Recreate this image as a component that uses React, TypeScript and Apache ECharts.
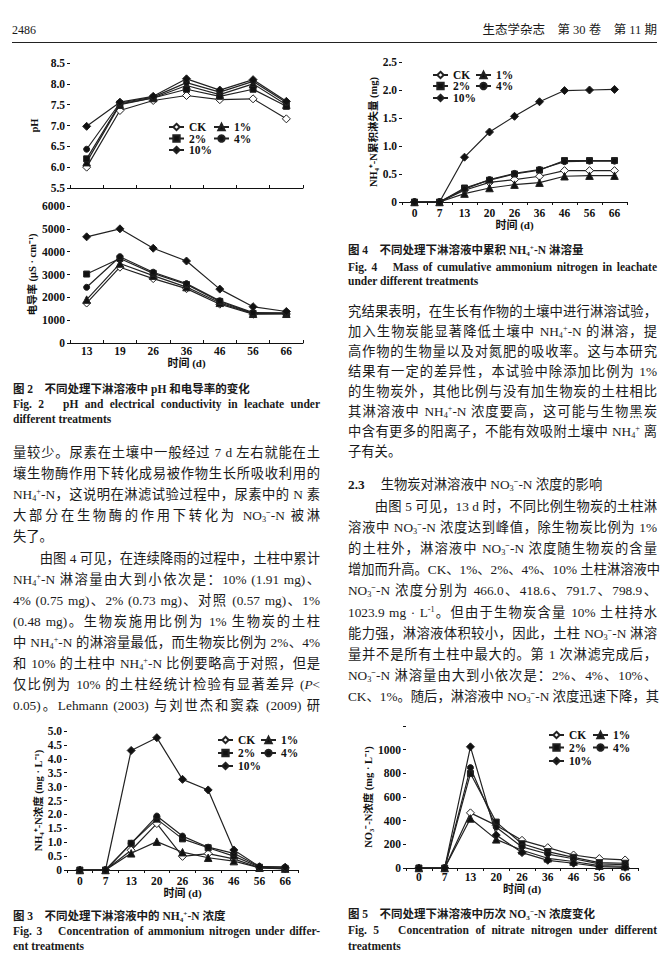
import React, { useEffect, useRef } from "react";
import * as echarts from "echarts";

// ---------- data ----------
const daysFig2 = ["13", "19", "26", "36", "46", "56", "66"];
const daysLeach = ["0", "7", "13", "20", "26", "36", "46", "56", "66"];
const treatments = ["CK", "1%", "2%", "4%", "10%"];

const phCK = [6.0, 7.36, 7.6, 7.72, 7.62, 7.64, 7.16];
const ph1 = [6.12, 7.5, 7.66, 7.96, 7.74, 8.0, 7.5];
const ph2 = [6.2, 7.52, 7.66, 7.87, 7.7, 7.87, 7.46];
const ph4 = [6.43, 7.54, 7.68, 8.03, 7.8, 8.06, 7.55];
const ph10 = [6.98, 7.56, 7.7, 8.12, 7.85, 8.1, 7.58];

const ecCK = [1750, 3320, 2820, 2380, 1700, 1260, 1270];
const ec1 = [1900, 3480, 2950, 2450, 1760, 1280, 1280];
const ec2 = [3020, 3700, 3050, 2560, 1820, 1300, 1300];
const ec4 = [2440, 3780, 3100, 2600, 1850, 1330, 1320];
const ec10 = [4650, 5000, 4150, 3590, 2360, 1590, 1380];

const cumCK = [0, 0, 0.21, 0.35, 0.4, 0.46, 0.56, 0.56, 0.56];
const cum1 = [0, 0, 0.15, 0.25, 0.31, 0.345, 0.46, 0.47, 0.47];
const cum2 = [0, 0, 0.25, 0.39, 0.5, 0.57, 0.74, 0.74, 0.74];
const cum4 = [0, 0, 0.23, 0.4, 0.51, 0.58, 0.72, 0.73, 0.73];
const cum10 = [0, 0, 0.8, 1.25, 1.53, 1.79, 1.99, 2.0, 2.01];

const nhCK = [0, 0, 0.71, 1.67, 0.49, 0.59, 0.4, 0.08, 0.04];
const nh1 = [0, 0, 0.6, 1.02, 0.64, 0.44, 0.32, 0.08, 0.05];
const nh2 = [0, 0, 0.96, 1.83, 1.12, 0.8, 0.5, 0.1, 0.06];
const nh4 = [0, 0, 0.96, 1.94, 1.22, 0.82, 0.6, 0.12, 0.1];
const nh10 = [0, 0, 4.3, 4.76, 3.26, 2.88, 0.72, 0.12, 0.1];

const noCK = [0, 0, 466, 360, 234, 172, 110, 80, 68];
const no1 = [0, 0, 418.6, 242, 150, 82, 55, 20, 15];
const no2 = [0, 0, 798, 388, 205, 138, 90, 45, 40];
const no4 = [0, 0, 848, 345, 178, 118, 78, 35, 28];
const no10 = [0, 0, 1023.9, 278, 130, 65, 40, 12, 6];

// ---------- text ----------
const leftLines = [
  "量较少。尿素在土壤中一般经过 7 d 左右就能在土",
  "壤生物酶作用下转化成易被作物生长所吸收利用的",
  "{N}-N，这说明在淋滤试验过程中，尿素中的 N 素",
  "大部分在生物酶的作用下转化为 {O}-N 被淋",
  "失了。",
  "　　由图 4 可见，在连续降雨的过程中，土柱中累计",
  "{N}-N 淋溶量由大到小依次是：10% (1.91 mg)、",
  "4% (0.75 mg)、2% (0.73 mg)、对照 (0.57 mg)、1%",
  "(0.48 mg)。生物炭施用比例为 1% 生物炭的土柱",
  "中 {N}-N 的淋溶量最低，而生物炭比例为 2%、4%",
  "和 10% 的土柱中 {N}-N 比例要略高于对照，但是",
  "仅比例为 10% 的土柱经统计检验有显著差异 ({P}<",
  "0.05)。Lehmann (2003) 与刘世杰和窦森 (2009) 研",
];
const leftLast = [4];
const rightLines = [
  "究结果表明，在生长有作物的土壤中进行淋溶试验，",
  "加入生物炭能显著降低土壤中 {N}-N 的淋溶，提",
  "高作物的生物量以及对氮肥的吸收率。这与本研究",
  "结果有一定的差异性，本试验中除添加比例为 1%",
  "的生物炭外，其他比例与没有加生物炭的土柱相比",
  "其淋溶液中 {N}-N 浓度要高，这可能与生物黑炭",
  "中含有更多的阳离子，不能有效吸附土壤中 {N} 离",
  "子有关。",
];
const rightLines2 = [
  "　　由图 5 可见，13 d 时，不同比例生物炭的土柱淋",
  "溶液中 {O}-N 浓度达到峰值，除生物炭比例为 1%",
  "的土柱外，淋溶液中 {O}-N 浓度随生物炭的含量",
  "增加而升高。CK、1%、2%、4%、10% 土柱淋溶液中",
  "{O}-N 浓度分别为 466.0、418.6、791.7、798.9、",
  "1023.9 mg · {L}。但由于生物炭含量 10% 土柱持水",
  "能力强，淋溶液体积较小，因此，土柱 {O}-N 淋溶",
  "量并不是所有土柱中最大的。第 1 次淋滤完成后，",
  "{O}-N 淋溶量由大到小依次是：2%、4%、10%、",
  "CK、1%。随后，淋溶液中 {O}-N 浓度迅速下降，其",
];

const SERIF = "'Liberation Serif', 'Noto Sans CJK SC', serif";
const NUMF = "'Liberation Serif', 'DejaVu Serif', serif";
const CJKF = "'Liberation Serif', 'Noto Sans CJK SC', sans-serif";

const SUB: React.CSSProperties = { fontSize: "0.62em", verticalAlign: "-0.3em", lineHeight: 0 };
const SUP: React.CSSProperties = { fontSize: "0.62em", verticalAlign: "0.55em", lineHeight: 0 };

function rich(s: string) {
  const parts = s.split(/(\{N\}|\{O\}|\{L\}|\{P\})/);
  return parts.map((p, i) => {
    if (p === "{N}")
      return (
        <span key={i}>
          NH<span style={SUB}>4</span>
          <span style={SUP}>+</span>
        </span>
      );
    if (p === "{O}")
      return (
        <span key={i}>
          NO<span style={SUB}>3</span>
          <span style={{ ...SUP, fontWeight: "bold" }}>−</span>
        </span>
      );
    if (p === "{L}")
      return (
        <span key={i}>
          L<span style={SUP}>-1</span>
        </span>
      );
    if (p === "{P}") return <i key={i}>P</i>;
    return <span key={i}>{p}</span>;
  });
}

function TLine(props: {
  x: number;
  y: number;
  w: number;
  text: string;
  justify?: boolean;
  size?: number;
  bold?: boolean;
  font?: string;
}) {
  const { x, y, w, text, justify = true, size = 13.3, bold = false, font = SERIF } = props;
  return (
    <div
      style={{
        position: "absolute",
        left: x,
        top: y - 9,
        width: w,
        height: 18,
        lineHeight: "18px",
        fontSize: size,
        fontFamily: font,
        fontWeight: bold ? "bold" : "normal",
        whiteSpace: "nowrap",
        textAlign: justify ? "justify" : "left",
        textAlignLast: justify ? "justify" : "left",
        color: "#1a1a1a",
      }}
    >
      {rich(text)}
    </div>
  );
}

const STYLES = [
  { symbol: "diamond", fill: "#ffffff", size: 8 },
  { symbol: "triangle", fill: "#111111", size: 7.5 },
  { symbol: "rect", fill: "#111111", size: 6 },
  { symbol: "circle", fill: "#111111", size: 6 },
  { symbol: "diamond", fill: "#111111", size: 8 },
];

function mkSeries(idx: number, arrays: number[][]) {
  return arrays.map((d, k) => ({
    type: "line",
    name: treatments[k],
    data: d,
    xAxisIndex: idx,
    yAxisIndex: idx,
    symbol: STYLES[k].symbol,
    symbolSize: STYLES[k].size,
    showSymbol: true,
    lineStyle: { color: "#222", width: 1.2 },
    itemStyle: { color: STYLES[k].fill, borderColor: "#222", borderWidth: 1 },
    z: 2 + k,
  }));
}

function mkLegends(cols: [number, number], rows: number[]) {
  const pos = [
    [0, 0],
    [1, 0],
    [0, 1],
    [1, 1],
    [0, 2],
  ];
  return treatments.map((t, k) => ({
    data: [t],
    left: cols[pos[k][0]],
    top: rows[pos[k][1]] - 7,
    padding: 0,
    itemWidth: 15,
    itemHeight: 8,
    selectedMode: false,
    textStyle: { fontFamily: NUMF, fontWeight: "bold", fontSize: 11.5, color: "#111" },
  }));
}

const axisBase = {
  axisLine: { lineStyle: { color: "#111", width: 1 } },
  splitLine: { show: false },
};
const labelBase = { fontFamily: NUMF, fontWeight: "bold", fontSize: 11.5, color: "#111" };
const nameStyle = { fontFamily: CJKF, fontWeight: "bold", fontSize: 10.5, color: "#111" };

function xAx(grid: number, data: string[], showLabel: boolean, margin: number, nameGap: number) {
  return {
    type: "category",
    gridIndex: grid,
    data,
    boundaryGap: true,
    ...axisBase,
    axisTick: { show: true, length: 3, inside: grid < 2, lineStyle: { color: "#111" } },
    axisLabel: { ...labelBase, show: showLabel, margin },
    name: showLabel ? "时间 (d)" : "",
    nameLocation: "middle",
    nameGap,
    nameTextStyle: { ...nameStyle, fontSize: 11 },
  };
}

function yAx(grid: number, min: number, max: number, interval: number, name: string, nameGap: number, fmt: (v: number) => string) {
  return {
    type: "value",
    gridIndex: grid,
    min,
    max,
    interval,
    ...axisBase,
    axisTick: { show: true, length: 3, lineStyle: { color: "#111" } },
    axisLabel: { ...labelBase, margin: 5, formatter: fmt },
    name,
    nameLocation: "middle",
    nameRotate: 90,
    nameGap,
    nameTextStyle: nameStyle,
  };
}

const fmt1 = (v: number) => (v === 0 ? "0" : v.toFixed(1));
const fmtInt = (v: number) => String(Math.round(v));

export default function App() {
  const ref = useRef<HTMLDivElement>(null);
  useEffect(() => {
    if (!ref.current) return;
    const chart = echarts.init(ref.current, undefined, { renderer: "svg" });
    const option: any = {
      animation: false,
      backgroundColor: "transparent",
      grid: [
        { left: 70, top: 63, width: 233, height: 125 },
        { left: 70, top: 206, width: 233, height: 137 },
        { left: 402, top: 62, width: 225, height: 140 },
        { left: 67, top: 731, width: 231, height: 139 },
        { left: 406, top: 726, width: 232, height: 142 },
      ],
      xAxis: [
        xAx(0, daysFig2, false, 3, 15),
        xAx(1, daysFig2, true, 2, 13),
        xAx(2, daysLeach, true, 5, 16),
        xAx(3, daysLeach, true, 5, 14),
        xAx(4, daysLeach, true, 3, 14),
      ],
      yAxis: [
        yAx(0, 5.5, 8.5, 0.5, "pH", 30, (v) => v.toFixed(1)),
        yAx(1, 0, 6000, 1000, "电导率 (μS · cm⁻¹)", 29, fmtInt),
        yAx(2, 0, 2.5, 0.5, "NH₄⁺-N累积淋失量 (mg)", 23, fmt1),
        yAx(3, 0, 5, 0.5, "NH₄⁺-N浓度 (mg · L⁻¹)", 21, fmt1),
        yAx(4, 0, 1200, 200, "NO₃⁻-N浓度 (mg · L⁻¹)", 32, (v) => (v >= 1200 ? "" : fmtInt(v))),
      ],
      legend: [
        ...mkLegends([168, 213], [128, 139.5, 151]),
        ...mkLegends([432, 475], [76, 87, 99]),
        ...mkLegends([217, 260], [741, 754, 767]),
        ...mkLegends([548, 592], [736, 748.5, 762]),
      ],
      series: [
        ...mkSeries(0, [phCK, ph1, ph2, ph4, ph10]),
        ...mkSeries(1, [ecCK, ec1, ec2, ec4, ec10]),
        ...mkSeries(2, [cumCK, cum1, cum2, cum4, cum10]),
        ...mkSeries(3, [nhCK, nh1, nh2, nh4, nh10]),
        ...mkSeries(4, [noCK, no1, no2, no4, no10]),
      ],
    };
    chart.setOption(option);
    return () => chart.dispose();
  }, []);

  const LX = 13;
  const LW = 307;
  const RX = 348;
  const RW = 309;

  return (
    <div
      style={{
        position: "fixed",
        left: 0,
        top: 0,
        width: 669,
        height: 966,
        background: "#fff",
        overflow: "hidden",
      }}
    >
      <div ref={ref} style={{ position: "absolute", left: 0, top: 0, width: 669, height: 966 }} />

      {/* header */}
      <TLine x={12} y={30} w={60} text="2486" justify={false} size={12} font={NUMF} />
      <div
        style={{
          position: "absolute",
          left: 400,
          top: 21,
          width: 257,
          height: 18,
          lineHeight: "18px",
          textAlign: "right",
          fontFamily: SERIF,
          fontSize: 12.5,
          color: "#1a1a1a",
        }}
      >
        生态学杂志　第 30 卷　第 11 期
      </div>
      <div style={{ position: "absolute", left: 12, top: 42, width: 645, height: 0, borderTop: "1px solid #222" }} />

      {/* Fig 2 caption */}
      <TLine x={LX} y={389} w={LW} text="图 2　不同处理下淋溶液中 pH 和电导率的变化" justify={false} size={11.5} bold font={CJKF} />
      <TLine x={LX} y={404} w={LW} text="Fig. 2　pH and electrical conductivity in leachate under" size={11.5} bold font={NUMF} />
      <TLine x={LX} y={419} w={LW} text="different treatments" justify={false} size={11.5} bold font={NUMF} />

      {/* Fig 4 caption */}
      <TLine x={RX} y={250} w={RW} text="图 4　不同处理下淋溶液中累积 {N}-N 淋溶量" justify={false} size={11.5} bold font={CJKF} />
      <TLine x={RX} y={267} w={RW} text="Fig. 4　Mass of cumulative ammonium nitrogen in leachate" size={11.5} bold font={NUMF} />
      <TLine x={RX} y={281} w={RW} text="under different treatments" justify={false} size={11.5} bold font={NUMF} />

      {/* left body */}
      {leftLines.map((t, i) => (
        <TLine key={"l" + i} x={LX} y={453 + i * 21.1} w={LW} text={t} justify={!leftLast.includes(i)} />
      ))}

      {/* right body */}
      {rightLines.map((t, i) => (
        <TLine key={"r" + i} x={RX} y={312 + i * 20} w={RW} text={t} justify={i !== rightLines.length - 1} />
      ))}
      <div
        style={{
          position: "absolute",
          left: RX,
          top: 485 - 9,
          height: 18,
          lineHeight: "18px",
          fontSize: 13.3,
          fontFamily: SERIF,
          whiteSpace: "nowrap",
          color: "#1a1a1a",
        }}
      >
        <b style={{ fontFamily: NUMF }}>2.3</b>
        <span style={{ marginLeft: 16 }}>生物炭对淋溶液中 {rich("{O}")}-N 浓度的影响</span>
      </div>
      {rightLines2.map((t, i) => (
        <TLine key={"s" + i} x={RX} y={507 + i * 21.1} w={RW} text={t} />
      ))}

      {/* Fig 3 caption */}
      <TLine x={LX} y={916} w={LW} text="图 3　不同处理下淋溶液中的 {N}-N 浓度" justify={false} size={11.5} bold font={CJKF} />
      <TLine x={LX} y={931} w={LW} text="Fig. 3　Concentration of ammonium nitrogen under differ-" size={11.5} bold font={NUMF} />
      <TLine x={LX} y={946} w={LW} text="ent treatments" justify={false} size={11.5} bold font={NUMF} />

      {/* Fig 5 caption */}
      <TLine x={RX} y={914} w={RW} text="图 5　不同处理下淋溶液中历次 {O}-N 浓度变化" justify={false} size={11.5} bold font={CJKF} />
      <TLine x={RX} y={930} w={RW} text="Fig. 5　Concentration of nitrate nitrogen under different" size={11.5} bold font={NUMF} />
      <TLine x={RX} y={946} w={RW} text="treatments" justify={false} size={11.5} bold font={NUMF} />
    </div>
  );
}
